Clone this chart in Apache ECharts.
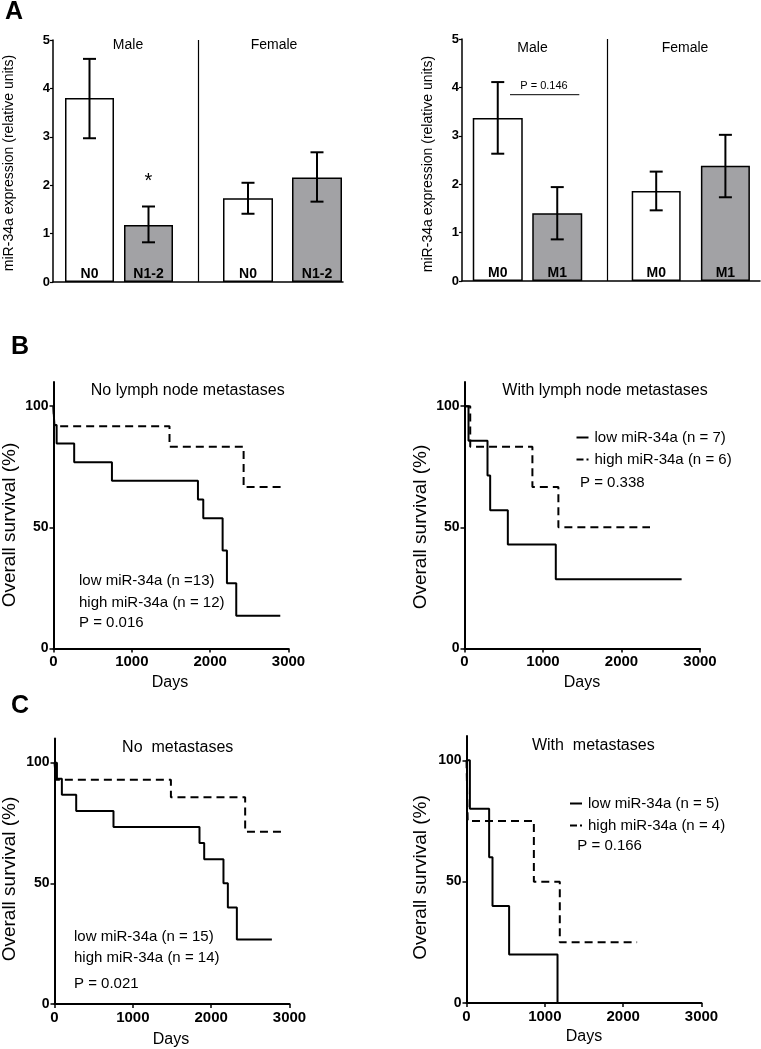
<!DOCTYPE html>
<html><head><meta charset="utf-8">
<script src="https://cdn.jsdelivr.net/npm/echarts@6/dist/echarts.min.js"></script>
<style>html,body{margin:0;padding:0;background:#fff}#c{width:761px;height:1049px}</style>
</head><body><div id="c"></div>
<script>
// ---------- Panel A data ----------
const nStageCats = ['N0', 'N1-2'];
const nMaleMean = [3.80, 1.18];
const nMaleLow = [2.97, 0.82];
const nMaleHigh = [4.61, 1.56];
const nMaleSig = ['', '*'];
const nFemaleMean = [1.73, 2.16];
const nFemaleLow = [1.41, 1.66];
const nFemaleHigh = [2.05, 2.68];

const mStageCats = ['M0', 'M1'];
const mMaleMean = [3.37, 1.40];
const mMaleLow = [2.63, 0.86];
const mMaleHigh = [4.11, 1.94];
const mFemaleMean = [1.86, 2.38];
const mFemaleLow = [1.46, 1.73];
const mFemaleHigh = [2.26, 3.02];

const aYTicks = [0, 1, 2, 3, 4, 5];

// ---------- Kaplan-Meier data (days, survival %) ----------
const bLeftLowT = [0, 10, 40, 264, 746, 1844, 1912, 2159, 2214, 2333, 2895];
const bLeftLowS = [100, 92.3, 84.6, 76.9, 69.2, 61.5, 53.8, 40.4, 26.9, 13.5, 13.5];
const bLeftHighT = [0, 10, 1481, 2427, 2917];
const bLeftHighS = [100, 91.7, 83.3, 66.7, 66.7];

const bRightLowT = [0, 51, 293, 327, 552, 1163, 2766];
const bRightLowS = [100, 85.7, 71.4, 57.1, 42.9, 28.6, 28.6];
const bRightHighT = [0, 73, 865, 1196, 2363];
const bRightHighS = [100, 83.3, 66.7, 50, 50];

const cLeftLowT = [0, 31, 94, 277, 753, 1851, 1911, 2157, 2213, 2328, 2775];
const cLeftLowS = [100, 93.3, 86.7, 80, 73.3, 66.7, 60, 50, 40, 26.7, 26.7];
const cLeftHighT = [0, 20, 1486, 2434, 2932];
const cLeftHighS = [100, 92.9, 85.7, 71.4, 71.4];

const cRightLowT = [0, 43, 289, 332, 544, 1162];
const cRightLowS = [100, 80, 60, 40, 20, 0];
const cRightHighT = [0, 15, 860, 1191, 2178];
const cRightHighS = [100, 75, 50, 25, 25];

const kmYTicks = [0, 50, 100];
const kmXTicks = [0, 1000, 2000, 3000];

// ---------- build ----------
const FONT = '"Liberation Sans", Arial, sans-serif';
const grids = [], xAxes = [], yAxes = [], series = [], legends = [], graphics = [];

function addGrid(l, t, w, h) {
  grids.push({left: l, top: t, width: w, height: h, containLabel: false, outerBoundsMode: 'none'});
  return grids.length - 1;
}
const axisLineStyle = w => ({show: true, onZero: false, lineStyle: {color: '#000', width: w}});

// Panel A axes frame with divider
function barFrame(l, t, w, h, xmax) {
  const g = addGrid(l, t, w, h);
  xAxes.push({gridIndex: g, type: 'value', min: 0, max: xmax, axisLine: axisLineStyle(1.5),
    axisTick: {show: false}, axisLabel: {show: false}, splitLine: {show: false}});
  const xi = xAxes.length - 1;
  yAxes.push({gridIndex: g, type: 'value', min: aYTicks[0], max: aYTicks[aYTicks.length - 1], interval: 1,
    axisLine: axisLineStyle(1.5), axisTick: {show: true, length: 3, lineStyle: {color: '#000', width: 1.2}},
    axisLabel: {color: '#000', fontWeight: 'bold', fontSize: 13, fontFamily: FONT, margin: 3},
    splitLine: {show: false}});
  const yi = yAxes.length - 1;
  series.push({type: 'scatter', xAxisIndex: xi, yAxisIndex: yi, data: [], silent: true,
    markLine: {symbol: ['none', 'none'], silent: true, animation: false, label: {show: false},
      lineStyle: {color: '#000', width: 1.2, type: 'solid'}, data: [{xAxis: 1}]}});
}

function barGroup(l, t, w, h, cats, mean, low, high, sig, barW) {
  const g = addGrid(l, t, w, h);
  xAxes.push({gridIndex: g, type: 'category', data: cats, show: false});
  const xi = xAxes.length - 1;
  yAxes.push({gridIndex: g, type: 'value', min: 0, max: 5, show: false});
  const yi = yAxes.length - 1;
  const fills = ['#ffffff', '#a2a2a5'];
  series.push({type: 'bar', xAxisIndex: xi, yAxisIndex: yi, barWidth: barW,
    data: mean.map((v, i) => ({value: v, itemStyle: {color: fills[i], borderColor: '#000', borderWidth: 1.5}})),
    label: {show: true, position: 'insideBottom', distance: 1, formatter: '{b}', color: '#000',
      fontWeight: 'bold', fontSize: 14, fontFamily: FONT}});
  series.push({type: 'custom', xAxisIndex: xi, yAxisIndex: yi, z: 5,
    data: low.map((lo, i) => [i, lo, high[i]]),
    encode: {x: 0, y: [1, 2]},
    renderItem: function (params, api) {
      const i = params.dataIndex;
      const pLo = api.coord([api.value(0), api.value(1)]);
      const pHi = api.coord([api.value(0), api.value(2)]);
      const hw = 6.5;
      const st = {stroke: '#000', lineWidth: 2};
      const kids = [
        {type: 'line', shape: {x1: pLo[0], y1: pLo[1], x2: pHi[0], y2: pHi[1]}, style: st},
        {type: 'line', shape: {x1: pLo[0] - hw, y1: pLo[1], x2: pLo[0] + hw, y2: pLo[1]}, style: st},
        {type: 'line', shape: {x1: pHi[0] - hw, y1: pHi[1], x2: pHi[0] + hw, y2: pHi[1]}, style: st}
      ];
      if (sig && sig[i]) {
        kids.push({type: 'text', x: pHi[0], y: pHi[1] - 25,
          style: {text: sig[i], fill: '#000', fontSize: 20, fontFamily: FONT,
            align: 'center', verticalAlign: 'middle', textAlign: 'center', textVerticalAlign: 'middle'}});
      }
      return {type: 'group', children: kids};
    }});
}

const solidIcon = 'path://M0,0H12V2H0Z';
const dashIcon = 'path://M0,0H7V2H0Z M10,0H12V2H10Z';

function kmPanel(l, t, w, h, lowT, lowS, highT, highS, lowName, highName, withLegend, legPos) {
  const g = addGrid(l, t, w, h);
  xAxes.push({gridIndex: g, type: 'value', min: kmXTicks[0], max: kmXTicks[kmXTicks.length - 1], interval: 1000,
    axisLine: axisLineStyle(2), axisTick: {show: true, length: 4, lineStyle: {color: '#000', width: 1.5}},
    axisLabel: {color: '#000', fontWeight: 'bold', fontSize: 15, fontFamily: FONT, margin: 6,
      formatter: v => String(v)},
    splitLine: {show: false}});
  const xi = xAxes.length - 1;
  yAxes.push({gridIndex: g, type: 'value', min: 0, max: 110,
    axisLine: axisLineStyle(2),
    axisTick: {show: true, length: 4, customValues: kmYTicks, lineStyle: {color: '#000', width: 1.5}},
    axisLabel: {color: '#000', fontWeight: 'bold', fontSize: 14, fontFamily: FONT, margin: 5,
      customValues: kmYTicks, formatter: v => String(v)},
    splitLine: {show: false}});
  const yi = yAxes.length - 1;
  series.push({type: 'line', name: lowName, xAxisIndex: xi, yAxisIndex: yi, step: 'end', symbol: 'none',
    data: lowT.map((x, i) => [x, lowS[i]]), lineStyle: {color: '#000', width: 2, type: 'solid'},
    itemStyle: {color: '#000'}, z: 3});
  series.push({type: 'line', name: highName, xAxisIndex: xi, yAxisIndex: yi, step: 'end', symbol: 'none',
    data: highT.map((x, i) => [x, highS[i]]), lineStyle: {color: '#000', width: 2, type: [8, 5]},
    itemStyle: {color: '#000'}, z: 2});
  if (withLegend) {
    legends.push({data: [{name: lowName, icon: solidIcon}, {name: highName, icon: dashIcon}],
      left: legPos[0], top: legPos[1], orient: 'vertical', padding: 0,
      itemWidth: 12, itemHeight: 2, itemGap: 7, selectedMode: false,
      itemStyle: {color: '#000', borderWidth: 0},
      textStyle: {color: '#000', fontSize: 15, fontFamily: FONT, padding: [0, 0, 0, 1]}});
  }
}

function txt(x, y, text, size, o) {
  o = o || {};
  graphics.push({type: 'text', x: x, y: y, rotation: o.rot || 0, silent: true,
    style: {text: text, fill: '#000', fontSize: size, fontWeight: o.bold ? 'bold' : 'normal',
      fontFamily: o.family || FONT,
      align: o.align || 'center', verticalAlign: 'middle',
      textAlign: o.align || 'center', textVerticalAlign: 'middle'}});
}

// Panel A left (N stage)
barFrame(53, 40, 290, 242, 2);
barGroup(60, 40, 118, 242, nStageCats, nMaleMean, nMaleLow, nMaleHigh, nMaleSig, 49);
barGroup(213.5, 40, 138, 242, nStageCats, nFemaleMean, nFemaleLow, nFemaleHigh, null, 50);
// Panel A right (M stage)
barFrame(462, 39, 298, 242, 2.057);
barGroup(468, 39, 119, 242, mStageCats, mMaleMean, mMaleLow, mMaleHigh, null, 50);
barGroup(621.6, 39, 138.4, 242, mStageCats, mFemaleMean, mFemaleLow, mFemaleHigh, null, 49);

// Panel B
kmPanel(53.5, 382, 235, 266.5, bLeftLowT, bLeftLowS, bLeftHighT, bLeftHighS,
  'low miR-34a (n =13)', 'high miR-34a (n = 12)', false);
kmPanel(464.5, 382, 235.5, 266.5, bRightLowT, bRightLowS, bRightHighT, bRightHighS,
  'low miR-34a (n = 7)', 'high miR-34a (n = 6)', true, [576.5, 430]);
// Panel C
kmPanel(54.5, 738.5, 235, 265.5, cLeftLowT, cLeftLowS, cLeftHighT, cLeftHighS,
  'low miR-34a (n = 15)', 'high miR-34a (n = 14)', false);
kmPanel(466.5, 736, 235, 267, cRightLowT, cRightLowS, cRightHighT, cRightHighS,
  'low miR-34a (n = 5)', 'high miR-34a (n = 4)', true, [570, 796]);

// Texts
txt(14, 12, 'A', 25, {bold: true});
txt(20, 347, 'B', 25, {bold: true});
txt(20, 706, 'C', 25, {bold: true});

txt(128, 45, 'Male', 14); txt(274, 45, 'Female', 14);
txt(532.5, 48, 'Male', 14); txt(685, 48, 'Female', 14);
txt(9, 163, 'miR-34a expression (relative units)', 14, {rot: Math.PI / 2});
txt(428, 164, 'miR-34a expression (relative units)', 14, {rot: Math.PI / 2});
txt(544, 86, 'P = 0.146', 11);
graphics.push({type: 'line', silent: true, shape: {x1: 510, y1: 94.7, x2: 579.3, y2: 94.7},
  style: {stroke: '#000', lineWidth: 1}});

txt(187.7, 391, 'No lymph node metastases', 16);
txt(605, 391, 'With lymph node metastases', 16);
txt(79, 581, 'low miR-34a (n =13)', 15, {align: 'left'});
txt(79, 603.3, 'high miR-34a (n = 12)', 15, {align: 'left'});
txt(79, 623.3, 'P = 0.016', 15, {align: 'left'});
txt(580, 482.7, 'P = 0.338', 15, {align: 'left'});

txt(177.7, 747.7, 'No  metastases', 16);
txt(593.3, 745.7, 'With  metastases', 16);
txt(74, 937.3, 'low miR-34a (n = 15)', 15, {align: 'left'});
txt(74, 958.3, 'high miR-34a (n = 14)', 15, {align: 'left'});
txt(74, 984, 'P = 0.021', 15, {align: 'left'});
txt(577.3, 845.7, 'P = 0.166', 15, {align: 'left'});

txt(10, 525, 'Overall survival (%)', 19, {rot: Math.PI / 2});
txt(421, 527, 'Overall survival (%)', 19, {rot: Math.PI / 2});
txt(10, 879, 'Overall survival (%)', 19, {rot: Math.PI / 2});
txt(421, 877.5, 'Overall survival (%)', 19, {rot: Math.PI / 2});
txt(170, 683, 'Days', 16); txt(582, 683, 'Days', 16);
txt(171, 1040, 'Days', 16); txt(584, 1037, 'Days', 16);

const chart = echarts.init(document.getElementById('c'), null, {renderer: 'canvas'});
chart.setOption({
  animation: false,
  backgroundColor: '#fff',
  grid: grids, xAxis: xAxes, yAxis: yAxes, series: series, legend: legends,
  graphic: {elements: graphics}
});
</script></body></html>
